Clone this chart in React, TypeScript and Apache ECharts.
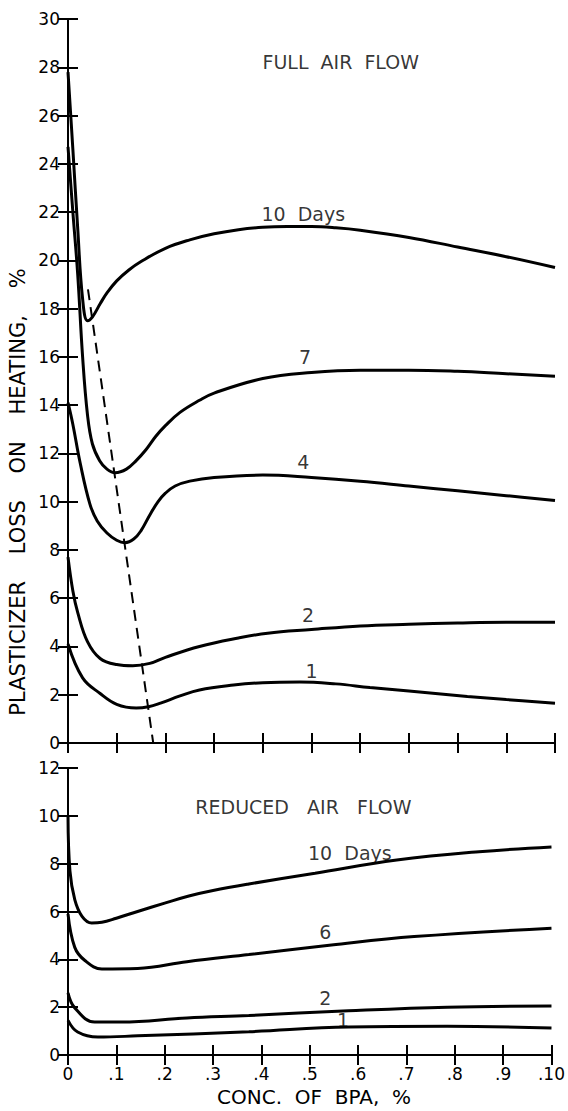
import React, { useEffect, useRef } from "react";
import * as echarts from "echarts";

// ---------- data ----------
const xTickLabels = ["0", ".1", ".2", ".3", ".4", ".5", ".6", ".7", ".8", ".9", ".10"];

// FULL AIR FLOW panel (x = conc. of BPA, y = plasticizer loss %)
const full10: [number, number][] = [
  [0, 27.8], [0.01, 24.6], [0.02, 21.3], [0.03, 18.4], [0.04, 17.5], [0.05, 17.65],
  [0.066, 18.2], [0.08, 18.65], [0.1, 19.15], [0.125, 19.6], [0.15, 19.95], [0.2, 20.5],
  [0.25, 20.85], [0.3, 21.1], [0.35, 21.27], [0.4, 21.37], [0.45, 21.4], [0.5, 21.4],
  [0.55, 21.35], [0.6, 21.25], [0.7, 20.95], [0.8, 20.55], [0.9, 20.15], [1.0, 19.7],
];
const full7: [number, number][] = [
  [0, 24.7], [0.01, 22.0], [0.02, 19.4], [0.03, 16.0], [0.04, 13.6], [0.05, 12.4],
  [0.065, 11.7], [0.08, 11.35], [0.097, 11.2], [0.12, 11.35], [0.14, 11.7], [0.16, 12.15],
  [0.18, 12.7], [0.2, 13.15], [0.23, 13.7], [0.27, 14.2], [0.3, 14.5], [0.4, 15.1],
  [0.5, 15.35], [0.6, 15.45], [0.7, 15.45], [0.8, 15.4], [0.9, 15.3], [1.0, 15.2],
];
const full4: [number, number][] = [
  [0, 14.1], [0.01, 13.2], [0.025, 11.6], [0.045, 9.9], [0.06, 9.2], [0.08, 8.7],
  [0.1, 8.4], [0.117, 8.3], [0.135, 8.45], [0.15, 8.8], [0.168, 9.45], [0.185, 10.0],
  [0.2, 10.35], [0.22, 10.65], [0.25, 10.85], [0.3, 11.0], [0.4, 11.1], [0.5, 11.0],
  [0.6, 10.85], [0.7, 10.65], [0.8, 10.45], [0.9, 10.25], [1.0, 10.05],
];
const full2: [number, number][] = [
  [0, 7.7], [0.01, 6.3], [0.02, 5.4], [0.04, 4.2], [0.066, 3.5], [0.1, 3.25],
  [0.133, 3.2], [0.168, 3.3], [0.2, 3.55], [0.27, 4.0], [0.35, 4.35], [0.41, 4.55],
  [0.5, 4.7], [0.6, 4.85], [0.7, 4.92], [0.8, 4.97], [0.9, 5.0], [1.0, 5.0],
];
const full1: [number, number][] = [
  [0, 4.1], [0.03, 2.7], [0.066, 2.05], [0.1, 1.6], [0.14, 1.45], [0.165, 1.5],
  [0.19, 1.65], [0.23, 1.95], [0.27, 2.2], [0.34, 2.4], [0.4, 2.5], [0.476, 2.53],
  [0.55, 2.45], [0.62, 2.3], [0.7, 2.15], [0.82, 1.93], [0.9, 1.8], [1.0, 1.65],
];
const minimaLine: [number, number][] = [[0.041, 18.8], [0.175, 0]];

// REDUCED AIR FLOW panel
const red10: [number, number][] = [
  [0, 10.0], [0.004, 7.7], [0.014, 6.5], [0.029, 5.8], [0.049, 5.52], [0.07, 5.55],
  [0.1, 5.72], [0.144, 6.0], [0.2, 6.35], [0.25, 6.65], [0.3, 6.88], [0.374, 7.15],
  [0.511, 7.6], [0.68, 8.15], [0.85, 8.5], [1.0, 8.7],
];
const red6: [number, number][] = [
  [0, 5.9], [0.014, 4.5], [0.035, 3.95], [0.07, 3.6], [0.144, 3.62], [0.246, 3.9],
  [0.374, 4.2], [0.545, 4.6], [0.716, 4.95], [1.0, 5.3],
];
const red2: [number, number][] = [
  [0, 2.6], [0.014, 1.97], [0.055, 1.38], [0.11, 1.38], [0.246, 1.55], [0.374, 1.65],
  [0.58, 1.85], [0.784, 2.0], [1.0, 2.05],
];
const red1: [number, number][] = [
  [0, 1.45], [0.02, 0.96], [0.062, 0.75], [0.144, 0.8], [0.374, 0.97], [0.58, 1.17],
  [0.784, 1.2], [1.0, 1.13],
];

// annotations (data coordinates)
const fullLabels = [
  { text: "FULL  AIR  FLOW", x: 0.56, y: 28.2 },
  { text: "10  Days", x: 0.483, y: 21.9 },
  { text: "7", x: 0.487, y: 16.0 },
  { text: "4", x: 0.483, y: 11.65 },
  { text: "2", x: 0.493, y: 5.3 },
  { text: "1", x: 0.5, y: 3.0 },
];
const reducedLabels = [
  { text: "REDUCED   AIR   FLOW", x: 0.487, y: 10.37 },
  { text: "10  Days", x: 0.583, y: 8.45 },
  { text: "6", x: 0.532, y: 5.14 },
  { text: "2", x: 0.532, y: 2.38 },
  { text: "1", x: 0.569, y: 1.46 },
];

const FONT = "DejaVu Sans";

export default function App() {
  const ref = useRef<HTMLDivElement>(null);
  useEffect(() => {
    if (!ref.current) return;
    const chart = echarts.init(ref.current, undefined, { renderer: "svg" });

    const axisLine = { show: true, lineStyle: { color: "#000", width: 2 } };
    const tick = { show: true, inside: true, length: 10, lineStyle: { color: "#000", width: 2 } };
    const lab = { fontFamily: FONT, fontSize: 17, color: "#000" };

    const xBase = (grid: number, pos: "top" | "bottom", showLabel: boolean) => ({
      type: "value",
      gridIndex: grid,
      position: pos,
      min: 0,
      max: 1,
      interval: 0.1,
      axisLine,
      axisTick: tick,
      splitLine: { show: false },
      axisLabel: showLabel
        ? { ...lab, margin: 10, formatter: (_v: number, i: number) => xTickLabels[i] ?? "" }
        : { show: false },
    });
    const yBase = (grid: number, pos: "left" | "right", max: number, showLabel: boolean) => ({
      type: "value",
      gridIndex: grid,
      position: pos,
      min: 0,
      max,
      interval: 2,
      axisLine,
      axisTick: tick,
      splitLine: { show: false },
      axisLabel: showLabel ? { ...lab, margin: 8 } : { show: false },
    });

    const line = (data: [number, number][], grid: number) => ({
      type: "line",
      xAxisIndex: grid === 0 ? 0 : 2,
      yAxisIndex: grid === 0 ? 0 : 2,
      data,
      symbol: "none",
      smooth: 0.4,
      clip: true,
      lineStyle: { color: "#000", width: 3 },
      silent: true,
    });

    const labelSeries = (items: { text: string; x: number; y: number }[], grid: number) => ({
      type: "scatter",
      xAxisIndex: grid === 0 ? 0 : 2,
      yAxisIndex: grid === 0 ? 0 : 2,
      symbolSize: 1,
      itemStyle: { color: "rgba(0,0,0,0)" },
      data: items.map((d) => ({ value: [d.x, d.y], name: d.text })),
      label: {
        show: true,
        position: "inside",
        formatter: (p: any) => p.name,
        fontFamily: FONT,
        fontSize: 19,
        color: "#000",
      },
      silent: true,
    });

    chart.setOption({
      animation: false,
      backgroundColor: "#fff",
      grid: [
        { left: 68, top: 19, width: 487, height: 724 },
        { left: 68, top: 768, width: 487, height: 287 },
      ],
      xAxis: [
        xBase(0, "bottom", false),
        xBase(0, "top", false),
        xBase(1, "bottom", true),
        xBase(1, "top", false),
      ],
      yAxis: [
        yBase(0, "left", 30, true),
        yBase(0, "right", 30, false),
        yBase(1, "left", 12, true),
        yBase(1, "right", 12, false),
      ],
      graphic: [
        {
          type: "text",
          x: 18,
          y: 492,
          rotation: Math.PI / 2,
          style: {
            text: "PLASTICIZER    LOSS    ON    HEATING,    %",
            fontFamily: FONT,
            fontSize: 21,
            fill: "#000",
            align: "center",
            verticalAlign: "middle",
          },
        },
        {
          type: "text",
          x: 314,
          y: 1097,
          style: {
            text: "CONC.  OF  BPA,  %",
            fontFamily: FONT,
            fontSize: 20,
            fill: "#000",
            align: "center",
            verticalAlign: "middle",
          },
        },
      ],
      series: [
        line(full10, 0),
        line(full7, 0),
        line(full4, 0),
        line(full2, 0),
        line(full1, 0),
        {
          type: "line",
          xAxisIndex: 0,
          yAxisIndex: 0,
          data: minimaLine,
          symbol: "none",
          lineStyle: { color: "#000", width: 2, type: [11, 7] },
          silent: true,
        },
        line(red10, 1),
        line(red6, 1),
        line(red2, 1),
        line(red1, 1),
        labelSeries(fullLabels, 0),
        labelSeries(reducedLabels, 1),
      ],
    });
    return () => chart.dispose();
  }, []);
  return (
    <div
      ref={ref}
      style={{ position: "absolute", left: 0, top: 0, width: 568, height: 1111, background: "#fff" }}
    />
  );
}
